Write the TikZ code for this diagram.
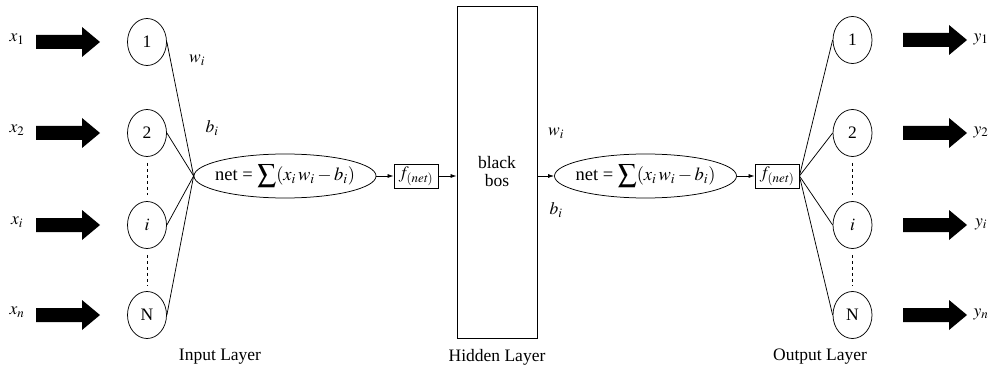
\documentclass[tikz,border=0pt]{standalone}
\usepackage{mathptmx}
\usepackage[no-math]{fontspec}
\newfontfamily\tms{Liberation Serif}
\setmainfont{Liberation Serif}
\usetikzlibrary{arrows.meta,shapes.geometric,calc}
\begin{document}
\begin{tikzpicture}[x=1pt,y=-1pt,
  font=\tms\fontsize{17.5}{20}\selectfont,
  neuron/.style={draw, ellipse, minimum width=39pt, minimum height=47pt, inner sep=0pt, line width=0.75pt},
  sumnode/.style={draw, ellipse, minimum width=182pt, minimum height=44pt, inner sep=0pt, line width=0.75pt,
    label={[font=\tms\fontsize{18.5}{20}\selectfont, inner sep=0pt]center:#1}},
  fbox/.style={draw, rectangle, minimum width=44pt, minimum height=24pt, inner sep=0pt, line width=0.85pt},
  wire/.style={line width=0.75pt},
  flow/.style={line width=0.75pt, -{Latex[length=6pt,width=4pt]}},
  dots/.style={line width=0.8pt, dash pattern=on 3pt off 3pt},
  lbl/.style={inner sep=0pt},
  barrow/.pic={\fill (0,-7) -- (46,-7) -- (46,-15) -- (64,0) -- (46,15) -- (46,7) -- (0,7) -- cycle;}
]
\useasboundingbox (0,0) rectangle (995,374);

% input side
\foreach \n/\yy/\txt/\lab in {1/42/1/x_1, 2/133/2/x_2, 3/225/$i$/x_i, 4/315/N/x_n}{
  \node[neuron] (in\n) at (147,\yy) {\txt};
  \node[lbl] (xl\n) at (17,\yy-3) {$\lab$};
  \pic at (36,\yy) {barrow};
}
\draw[dots] ($(in2.south)+(0,6)$) -- ($(in3.north)+(0,-6)$);
\draw[dots] ($(in3.south)+(0,6)$) -- ($(in4.north)+(0,-6)$);

\node[sumnode={net = $\displaystyle\sum(x_i\,w_i - b_i)$}] (sum1) at (285,176) {};
\foreach \n in {1,...,4}{\draw[wire] (in\n.east) -- (sum1.west);}
\node[lbl] (w1) at (197,60) {$w_i$};
\node[lbl] (b1) at (212,128) {$b_i$};

\node[fbox] (f1) at (416,176) {$f_{(\mathit{net})}$};
\draw[flow] (sum1.east) -- (f1.west);

% hidden
\node[draw, rectangle, minimum width=80pt, minimum height=332pt, line width=0.85pt, align=center, inner sep=0pt] (bb) at (497,172) {black\\[-2pt]bos};
\draw[flow] (f1.east) -- (bb.west |- f1.east);
\node[lbl] (w2) at (556,133) {$w_i$};
\node[lbl] (b2) at (556,210) {$b_i$};

\node[sumnode={net = $\displaystyle\sum(x_i\,w_i - b_i)$}] (sum2) at (645.5,176) {};
\draw[flow] (bb.east |- sum2.west) -- (sum2.west);
\node[fbox] (f2) at (777,176) {$f_{(\mathit{net})}$};
\draw[flow] (sum2.east) -- (f2.west);

% output side
\foreach \n/\yy/\txt/\lab in {1/40/1/y_1, 2/133/2/y_2, 3/225/$i$/y_i, 4/315/N/y_n}{
  \node[neuron] (out\n) at (852.5,\yy) {\txt};
  \node[lbl] (yl\n) at (981,\yy-1) {$\lab$};
  \pic at (903,\yy) {barrow};
  \draw[wire] (f2.east) -- (out\n.west);
}
\draw[dots] ($(out2.south)+(0,6)$) -- ($(out3.north)+(0,-6)$);
\draw[dots] ($(out3.south)+(0,6)$) -- ($(out4.north)+(0,-6)$);

\node[lbl] (L1) at (220,357) {Input Layer};
\node[lbl] (L2) at (497,357) {Hidden Layer};
\node[lbl] (L3) at (820,357) {Output Layer};
\end{tikzpicture}
\end{document}
